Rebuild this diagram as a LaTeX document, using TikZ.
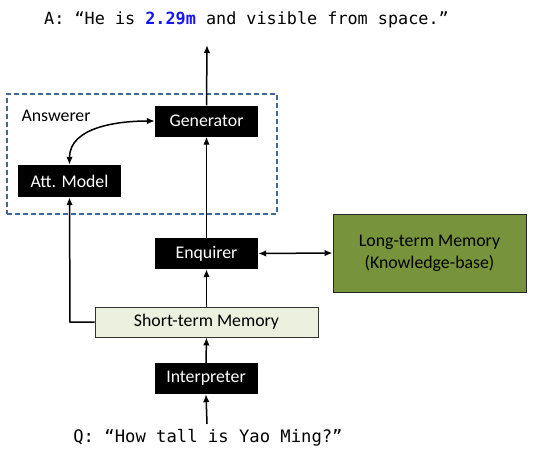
\documentclass[tikz,border=0pt]{standalone}
\usepackage{fontspec}
\setmainfont{Carlito}
\setmonofont{DejaVu Sans Mono}
\usetikzlibrary{arrows.meta}
\definecolor{olivebox}{HTML}{77933C}
\definecolor{stmfill}{HTML}{EBF1DE}
\definecolor{dashblue}{HTML}{41669A}
\definecolor{ansblue}{HTML}{1414FF}
\begin{document}
\begin{tikzpicture}[x=1pt,y=1pt,
  lbl/.style={font=\fontsize{17.8}{20}\selectfont},
  blackbox/.style={lbl,fill=black,text=white,minimum width=103pt,minimum height=31pt,inner sep=0pt},
  arr/.style={line width=1.5pt,-{Latex[length=8pt,width=6.5pt]}},
  darr/.style={line width=1.5pt,{Latex[length=8pt,width=6.5pt]}-{Latex[length=8pt,width=6.5pt]}}]
\useasboundingbox (0,0) rectangle (540,-460);
\node[draw=dashblue,dashed,line width=1.3pt,dash pattern=on 5pt off 3pt,minimum width=270pt,minimum height=120pt,inner sep=0pt] (ans) at (142,-154) {};
\node[anchor=west,lbl] (anslbl) at (18,-116) {Answerer};
\node[blackbox] (gen) at (206.5,-121) {Generator};
\node[blackbox,minimum height=32pt] (att) at (69.5,-181) {Att. Model};
\node[blackbox] (enq) at (206.5,-253.5) {Enquirer};
\node[blackbox] (int) at (206,-378.5) {Interpreter};
\node[lbl,draw=black!80,fill=stmfill,line width=0.9pt,minimum width=223pt,minimum height=30pt,inner sep=0pt] (stm) at (206.5,-322) {Short-term Memory};
\node[draw=black!85,fill=olivebox,line width=0.9pt,minimum width=193pt,minimum height=78pt,inner sep=0pt,align=center,font=\fontsize{17.8}{22}\selectfont] (ltm) at (429.5,-253) {Long-term Memory\\(Knowledge-base)};
\node[font=\ttfamily\fontsize{16.8}{18}\selectfont,inner sep=0pt] (ansq) at (246.5,-20) {A: “He is \textcolor{ansblue}{\textbf{2.29m}} and visible from space.”};
\node[font=\ttfamily\fontsize{17.2}{18}\selectfont,inner sep=0pt] (q) at (208,-438) {Q: “How tall is Yao Ming?”};
\coordinate (top) at (207,-45);
\coordinate (qtop) at (207,-424);
\coordinate (corner) at (70,-322);
\draw[arr] (qtop) -- (int.south);
\draw[arr] (int.north) -- (stm.south);
\draw[arr] (stm.north) -- (enq.south);
\draw[arr] (enq.north) -- (gen.south);
\draw[arr] (gen.north) -- (top);
\draw[darr] (enq.east) -- (ltm.west);
\draw[arr] (stm.west) -- (corner) -- (att.south);
\draw[darr] (att.north) to[out=90,in=180] (gen.west);
\end{tikzpicture}
\end{document}
